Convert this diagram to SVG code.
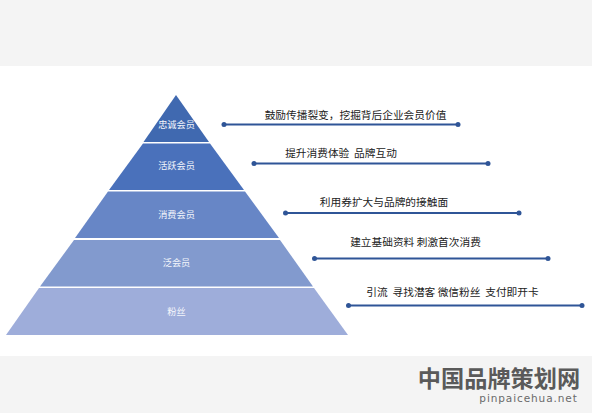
<svg xmlns="http://www.w3.org/2000/svg" width="592" height="413" viewBox="0 0 592 413">
<defs>
<style>
.lbl{font-family:"Noto Sans CJK SC","Liberation Sans",sans-serif;font-size:9.2px;fill:#f4f6fb;text-anchor:middle}
.txt{font-family:"Noto Sans CJK SC","Liberation Sans",sans-serif;font-size:10.7px;fill:#222222;text-anchor:middle;white-space:pre}
.ln{stroke:#2f5597;stroke-width:2;fill:none}
.dot{fill:#2f5597}
</style>
</defs>
<rect width="592" height="413" fill="#f4f4f4"/>
<rect y="66" width="592" height="290" fill="#ffffff"/>
<g id="layer1"><polygon points="176,95 209,142 143.500,142" fill="#4069b0"/><text class="lbl" x="176.500" y="128">忠诚会员</text></g>
<g id="layer2"><polygon points="143,143.500 210,143.500 244,190 109,190" fill="#4a71bb"/><text class="lbl" x="176.500" y="168.500">活跃会员</text></g>
<g id="layer3"><polygon points="108,191.500 245,191.500 279,238 75,238" fill="#6786c6"/><text class="lbl" x="176.500" y="217.500">消费会员</text></g>
<g id="layer4"><polygon points="74,240 280,240 313,286.500 40,286.500" fill="#829ace"/><text class="lbl" x="176.500" y="266">泛会员</text></g>
<g id="layer5"><polygon points="39,288 314,288 348,335 6,335" fill="#9eadda"/><text class="lbl" x="176.500" y="314.500">粉丝</text></g>
<g id="connectors">
<line class="ln" x1="224" y1="124.500" x2="458" y2="124.500"/><circle class="dot" cx="224" cy="124.500" r="2.500"/><circle class="dot" cx="458" cy="124.500" r="2.500"/>
<line class="ln" x1="254" y1="163.500" x2="488" y2="163.500"/><circle class="dot" cx="254" cy="163.500" r="2.500"/><circle class="dot" cx="488" cy="163.500" r="2.500"/>
<line class="ln" x1="285.500" y1="213" x2="519" y2="213"/><circle class="dot" cx="285.500" cy="213" r="2.500"/><circle class="dot" cx="519" cy="213" r="2.500"/>
<line class="ln" x1="314.500" y1="258.500" x2="548" y2="258.500"/><circle class="dot" cx="314.500" cy="258.500" r="2.500"/><circle class="dot" cx="548" cy="258.500" r="2.500"/>
<line class="ln" x1="348.500" y1="305.500" x2="582" y2="305.500"/><circle class="dot" cx="348.500" cy="305.500" r="2.500"/><circle class="dot" cx="582" cy="305.500" r="2.500"/>
</g>
<text class="txt" x="355.500" y="118.500">鼓励传播裂变，挖掘背后企业会员价值</text>
<text class="txt" x="341" y="156.500">提升消费体验  品牌互动</text>
<text class="txt" x="384" y="205.500">利用券扩大与品牌的接触面</text>
<text class="txt" x="415.500" y="245.500">建立基础资料 刺激首次消费</text>
<text class="txt" x="452.500" y="296">引流  寻找潜客 微信粉丝  支付即开卡</text>
<text x="499" y="386.500" font-family="Noto Sans CJK SC,sans-serif" font-size="23.200" font-weight="700" fill="#5a5a5a" text-anchor="middle">中国品牌策划网</text>
<text x="528.500" y="402" font-family="DejaVu Sans,sans-serif" font-size="10.500" fill="#6a6a6a" text-anchor="middle" letter-spacing="0.900">pinpaicehua.net</text>
</svg>
